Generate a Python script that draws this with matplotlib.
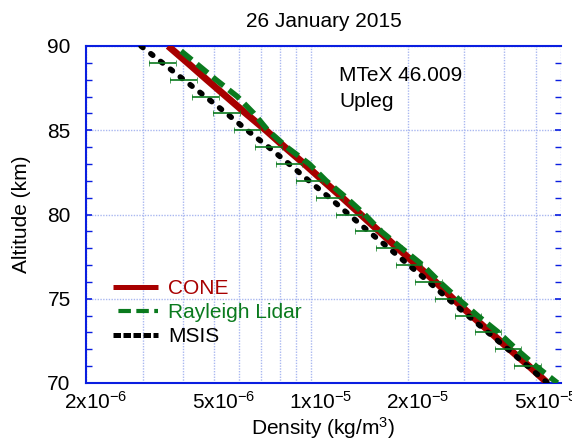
import numpy as np
import matplotlib
matplotlib.use("Agg")
import matplotlib.pyplot as plt
from matplotlib.ticker import FixedLocator, FixedFormatter, NullFormatter
from matplotlib.lines import Line2D
import matplotlib.transforms as mtransforms

plt.rcParams['font.family'] = ['Liberation Sans', 'DejaVu Sans']
plt.rcParams['mathtext.fontset'] = 'custom'
plt.rcParams['mathtext.rm'] = 'Liberation Sans'
plt.rcParams['mathtext.it'] = 'Liberation Sans'
plt.rcParams['mathtext.bf'] = 'Liberation Sans:bold'

# ---------------- data ----------------
title = "26 January 2015"
annotation_lines = ["MTeX 46.009", "Upleg"]
series_names = ["CONE", "Rayleigh Lidar", "MSIS"]

cone_alt = [90, 89, 88, 87, 86, 85, 84, 83, 82, 81, 80,
            79, 78, 77, 76, 75, 74, 73, 72, 71, 70]
cone_density = [3.60e-6, 4.14e-6, 4.75e-6, 5.46e-6, 6.28e-6, 7.25e-6, 8.30e-6,
                9.55e-6, 1.093e-5, 1.253e-5, 1.430e-5, 1.632e-5, 1.863e-5,
                2.134e-5, 2.444e-5, 2.770e-5, 3.162e-5, 3.622e-5, 4.150e-5,
                4.771e-5, 5.445e-5]

lidar_alt = [89.7, 89, 88, 87, 86, 85, 84, 83, 82, 81, 80,
             79, 78, 77, 76, 75, 74, 73, 72, 71, 70]
lidar_density = [3.95e-6, 4.38e-6, 5.07e-6, 5.91e-6, 6.65e-6, 7.35e-6, 8.42e-6,
                 9.89e-6, 1.117e-5, 1.289e-5, 1.472e-5, 1.655e-5, 1.917e-5,
                 2.228e-5, 2.515e-5, 2.872e-5, 3.301e-5, 3.836e-5, 4.363e-5,
                 5.016e-5, 5.85e-5]

msis_alt = [90, 89, 88, 87, 86, 85, 84, 83, 82, 81, 80,
            79, 78, 77, 76, 75, 74, 73, 72, 71, 70]
msis_density = [2.965e-6, 3.457e-6, 4.027e-6, 4.70e-6, 5.47e-6, 6.34e-6, 7.39e-6,
                8.56e-6, 9.87e-6, 1.143e-5, 1.314e-5, 1.512e-5, 1.750e-5,
                2.018e-5, 2.328e-5, 2.670e-5, 3.080e-5, 3.558e-5, 4.106e-5,
                4.727e-5, 5.445e-5]

# error bars (drawn at 71..89 km), relative half-width in percent
errbar_alt = [89, 88, 87, 86, 85, 84, 83, 82, 81, 80,
              79, 78, 77, 76, 75, 74, 73, 72, 71]
errbar_pct = [10, 10, 10, 10, 10, 10, 10, 10, 10, 10,
              10, 10, 10, 10, 10, 10, 10, 10, 10]

xticks_major = [2e-6, 5e-6, 1e-5, 2e-5, 5e-5]
xtick_labels = ["2x10$^{-6}$", "5x10$^{-6}$", "1x10$^{-5}$", "2x10$^{-5}$", "5x10$^{-5}$"]
xgrid_minor = [3e-6, 4e-6, 6e-6, 7e-6, 8e-6, 9e-6, 3e-5, 4e-5, 6e-5]
yticks_major = [70, 75, 80, 85, 90]

# ---------------- styling ----------------
RED = "#a80000"
GREEN = "#0a7a1e"
BLUE = "#0a1ee0"
GRID = "#aab8f0"
FS = 15

fig = plt.figure(figsize=(5.72, 4.45), dpi=100)
ax = fig.add_axes([86/572, 62/445, 475/572, 337/445])

ax.plot(cone_density, cone_alt, color=RED, lw=5.0, solid_capstyle='butt', zorder=3)
ax.plot(lidar_density, lidar_alt, color=GREEN, lw=4.0,
        linestyle=(0, (2.5, 1.2)), dash_capstyle='butt', zorder=4)
ax.plot(msis_density, msis_alt, color="black", lw=4.0,
        linestyle=(0, (0.45, 1.8)), dash_capstyle='round', zorder=5)

# error bars centred on MSIS values
eb_center = [msis_density[msis_alt.index(a)] for a in errbar_alt]
lo = [c - c / (1 + p / 100.0) for c, p in zip(eb_center, errbar_pct)]
hi = [c * (1 + p / 100.0) - c for c, p in zip(eb_center, errbar_pct)]
ax.errorbar(eb_center, errbar_alt, xerr=[lo, hi], fmt='none', ecolor=GREEN,
            elinewidth=1.2, capsize=2.5, capthick=0.5, zorder=6)

ax.set_xscale('log')
ax.set_xlim(2e-6, 6e-5)
ax.set_ylim(70, 90)

ax.xaxis.set_major_locator(FixedLocator(xticks_major))
ax.xaxis.set_major_formatter(FixedFormatter(xtick_labels))
ax.xaxis.set_minor_locator(FixedLocator(xgrid_minor))
ax.xaxis.set_minor_formatter(NullFormatter())
ax.tick_params(axis='x', which='both', length=0, labelsize=FS, pad=6)

ax.yaxis.set_major_locator(FixedLocator(yticks_major))
ax.yaxis.set_minor_locator(FixedLocator(list(range(70, 91))))
ax.tick_params(axis='y', which='major', direction='in', length=4.5, width=1.2,
               color=BLUE, left=True, right=True, labelsize=FS, pad=11)
ax.tick_params(axis='y', which='minor', direction='in', length=4, width=1.0,
               color=BLUE, left=True, right=True)

# shift x tick labels so the mantissa sits on the tick
offset = mtransforms.ScaledTranslation(10/100, 0, fig.dpi_scale_trans)
for lab in ax.get_xticklabels():
    lab.set_transform(lab.get_transform() + offset)

ax.grid(True, which='both', axis='x', color=GRID, linestyle=(0, (1, 1)), lw=1.0, zorder=0)
ax.grid(True, which='major', axis='y', color=GRID, linestyle=(0, (1, 1)), lw=1.0, zorder=0)

for side in ['left', 'bottom', 'top']:
    ax.spines[side].set_color(BLUE)
    ax.spines[side].set_linewidth(1.5)
ax.spines['right'].set_visible(False)

ax.set_xlabel("Density (kg/m$^3$)", fontsize=FS, labelpad=1)
ax.set_ylabel("Altitude (km)", fontsize=FS, labelpad=12)
ax.set_title(title, fontsize=FS, pad=14)

ax.text(0.533, 0.896, annotation_lines[0], transform=ax.transAxes, fontsize=FS, va='baseline')
ax.text(0.533, 0.819, annotation_lines[1], transform=ax.transAxes, fontsize=FS, va='baseline')

handles = [
    Line2D([], [], color=RED, lw=3.6, solid_capstyle='butt'),
    Line2D([], [], color=GREEN, lw=3.0, linestyle=(3.0, (3.0, 1.3)), dash_capstyle='butt'),
    Line2D([], [], color="black", lw=3.6, linestyle=(0, (1.5, 0.5)), dash_capstyle='butt'),
]
leg = ax.legend(handles, series_names, loc='center left', bbox_to_anchor=(0.056, 0.209),
                frameon=False, fontsize=FS, handlelength=2.2, handletextpad=0.45,
                labelspacing=0.24, borderpad=0, borderaxespad=0)
for txt, col in zip(leg.get_texts(), [RED, GREEN, "black"]):
    txt.set_color(col)

fig.savefig("out.png", dpi=100)
